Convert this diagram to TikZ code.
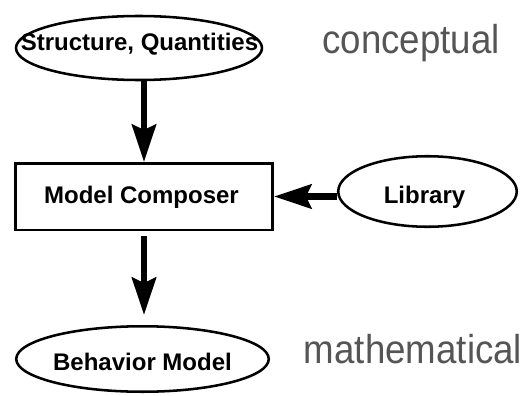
\documentclass[tikz,border=0pt]{standalone}
\usepackage{fontspec}
\usepackage{graphicx}
\setmainfont{Liberation Sans}
\usetikzlibrary{shapes.geometric,arrows.meta}
\definecolor{labelgray}{RGB}{85,85,85}
\newcommand{\tallword}[1]{\scalebox{1}[1.1]{#1}}
\begin{document}
\begin{tikzpicture}[x=0.75pt,y=-0.75pt,
  outline/.style={draw=black,line width=1.9pt,inner sep=0pt},
  oval/.style={outline,ellipse},
  boxshape/.style={outline,rectangle},
  caption/.style={font=\bfseries\fontsize{18pt}{20pt}\selectfont,inner sep=0pt,anchor=base},
  level/.style={font=\fontsize{27.5pt}{30pt}\selectfont,text=labelgray,inner sep=0pt,anchor=base},
  flow/.style={line width=4.8pt,-{Stealth[length=28pt,width=18pt,inset=4pt]}}]
\useasboundingbox (0,0) rectangle (528,396);

% shapes
\node[oval,minimum width=184.5pt,minimum height=48pt] (sq) at (139,48) {};
\node[boxshape,minimum width=193.1pt,minimum height=49.9pt] (box) at (144,196.5) {};
\node[oval,minimum width=133.9pt,minimum height=52.9pt] (lib) at (427.5,191.5) {};
\node[oval,minimum width=189.4pt,minimum height=49.1pt] (beh) at (142.5,359) {};

% labels inside the shapes
\node[caption] (sqtext) at (139.5,50) {Structure, Quantities};
\node[caption] (boxtext) at (141.5,203) {Model Composer};
\node[caption] (libtext) at (424.5,203) {Library};
\node[caption] (behtext) at (142.5,370) {Behavior Model};

% level annotations
\node[level] (top) at (411,53) {\tallword{conceptual}};
\node[level] (bottom) at (413,363) {\tallword{mathematical}};

% connectors
\draw[flow] (box.north |- sq.south) -- (box.north);
\draw[flow] (lib.west |- box.east) -- (box.east);
\draw[flow,shorten <=4pt,shorten >=7.5pt] (box.south) -- (box.south |- beh.north);
\end{tikzpicture}
\end{document}
